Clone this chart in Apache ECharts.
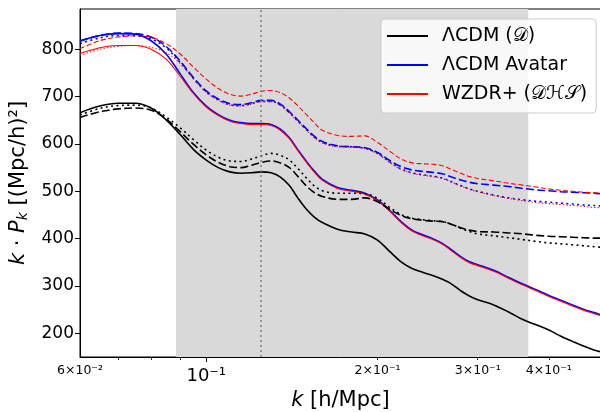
<!DOCTYPE html>
<html><head><meta charset="utf-8">
<script src="https://cdn.jsdelivr.net/npm/echarts@6/dist/echarts.min.js"></script>
<style>html,body{margin:0;padding:0;background:#fff}#c{width:600px;height:412px}</style>
</head><body><div id="c"></div>
<script>
const kVals = [0.06,0.065,0.07,0.075,0.08,0.085,0.09,0.095,0.1,0.105,0.11,0.115,0.12,0.125,0.13,0.135,0.14,0.145,0.15,0.155,0.16,0.17,0.18,0.19,0.2,0.21,0.22,0.23,0.24,0.25,0.26,0.27,0.28,0.29,0.3,0.32,0.34,0.36,0.38,0.4,0.42,0.44,0.46,0.48,0.494];
const lcdmSolid  = [666,680,686,686,676,651,620,588,566,550,541,538,539,541,539,530,512,485,462,445,434,420,414,410,397,373,351,337,329,322,314,304,290,279,271,260,245,229,218,207,194,183,173,165,161];
const lcdmDashed = [656,668,674,676,671,653,626,599,577,561,552,550,555,561,564,560,550,531,511,497,489,483,483,486,478,462,449,442,439,437,436,430,423,418,415,414,412,410,407,405,404,403,402,401,401];
const lcdmDotted = [661,675,681,682,676,657,634,609,587,572,564,563,568,575,580,576,566,548,528,511,501,496,496,495,485,466,451,443,440,438,436,430,422,415,410,406,402,398,394,391,389,387,385,383,382];
const avatarSolid  = [818,829,833,832,818,790,748,708,680,662,650,645,643,643,641,631,613,587,563,542,525,508,502,496,482,460,436,418,408,400,390,376,362,351,345,333,318,304,292,280,270,260,251,244,239];
const avatarDashed = [817,829,834,833,826,806,775,740,712,695,685,683,687,692,692,684,668,650,632,616,605,596,594,592,582,565,552,545,542,540,537,530,524,519,516,513,510,506,503,501,499,498,497,496,495];
const avatarDotted = [812,824,829,829,822,803,772,738,710,693,683,681,685,690,690,682,666,648,630,614,603,595,594,591,580,562,547,539,535,532,528,520,512,505,500,492,486,482,479,477,475,473,471,470,469];
const wzdrSolid  = [791,803,808,808,800,779,743,706,678,660,648,643,641,641,639,629,611,585,561,540,523,506,500,494,480,458,434,416,406,398,388,374,360,349,343,331,316,302,290,278,268,258,249,242,237];
const wzdrDashed = [801,818,826,828,825,812,790,762,737,717,705,701,705,711,713,708,697,680,662,644,629,618,616,617,603,585,568,560,558,557,554,546,538,531,527,522,517,513,509,505,502,500,498,497,496];
const wzdrDotted = [787,800,806,808,804,793,770,737,709,692,682,680,684,689,689,681,665,647,629,613,602,594,593,590,579,561,546,538,534,531,527,519,511,504,499,491,485,480,476,474,472,470,468,466,465];
const shadeRange = [0.0885, 0.368];
const vLineK = 0.1248;
const xMin = 0.06, xMax = 0.494;
const yMin = 150, yMax = 885;
const yTicks = [200,300,400,500,600,700,800];
const xLabelVals = [0.06, 0.1, 0.2, 0.3, 0.4];
const xLabelText = ['{s|6×10⁻²}', '{b|10⁻¹}', '{s|2×10⁻¹}', '{s|3×10⁻¹}', '{s|4×10⁻¹}'];
const xMinorTicks = [0.07, 0.08, 0.09, 0.2, 0.3, 0.4];
const xMajorTicks = [0.1];
const names = ['ΛCDM (𝒟)', 'ΛCDM Avatar', 'WZDR+ (𝒟ℋ𝒮)'];

const FONT = 'DejaVu Sans';
const DASH = [8, 3.3];
const DOT = [2, 3.4];
function pts(arr){ return kVals.map((k,i)=>[k, arr[i]]); }
function mk(name, arr, color, width, type, z){
  return {name, type:'line', data:pts(arr), symbol:'none', showSymbol:false, smooth:0.35, z:z||3,
    lineStyle:{color, width, type}, itemStyle:{color}, emphasis:{disabled:true}, animation:false, xAxisIndex:0, yAxisIndex:0};
}
const series = [
  {type:'line', data:[], xAxisIndex:0, yAxisIndex:0, z:1, silent:true, animation:false,
    markArea:{silent:true, precision:5, itemStyle:{color:'#d9d9d9'}, data:[[{xAxis:shadeRange[0]},{xAxis:shadeRange[1]}]]},
    markLine:{silent:true, precision:5, symbol:['none','none'], label:{show:false},
      lineStyle:{color:'#808080', width:1.5, type:[2,3]}, data:[{xAxis:vLineK}]}},
  mk(names[0], lcdmSolid, '#000000', 1.6, 'solid'),
  mk(names[1], avatarSolid, '#0000ff', 1.6, 'solid'),
  mk(names[2], wzdrSolid, '#ff0000', 1.1, 'solid'),
  mk('lcdm-dashed', lcdmDashed, '#000000', 1.6, DASH),
  mk('avatar-dashed', avatarDashed, '#0000ff', 1.6, DASH),
  mk('wzdr-dashed', wzdrDashed, '#ff0000', 1.1, [5,2.5]),
  mk('lcdm-dotted', lcdmDotted, '#000000', 1.6, DOT),
  mk('avatar-dotted', avatarDotted, '#0000ff', 1.6, DOT),
  mk('wzdr-dotted', wzdrDotted, '#ff0000', 1.1, [1.3,2.2])
];
const chart = echarts.init(document.getElementById('c'), null, {renderer:'canvas'});
chart.setOption({
  animation:false,
  backgroundColor:'#ffffff',
  textStyle:{fontFamily:FONT},
  grid:{left:80, right:-1, top:9, bottom:55, show:true, borderColor:'#000', borderWidth:1, backgroundColor:'transparent', containLabel:false, outerBoundsMode:'none'},
  legend:{data:names.map(n=>({name:n, icon:'rect'})), left:381, top:19, orient:'vertical', itemWidth:41, itemHeight:2, itemGap:9,
    padding:[7,9,9,6], backgroundColor:'rgba(255,255,255,0.8)', borderColor:'#cccccc', borderWidth:1, borderRadius:4,
    textStyle:{fontFamily:FONT, fontSize:19, lineHeight:20, color:'#000', padding:[0,0,0,9]}, selectedMode:false},
  xAxis:[
    {type:'log', logBase:10, min:xMin, max:xMax, position:'bottom',
      name:'{i|k} [h/Mpc]', nameLocation:'middle', nameGap:30,
      nameTextStyle:{fontFamily:FONT, fontSize:21, color:'#000', rich:{i:{fontFamily:FONT, fontSize:21, fontStyle:'italic', color:'#000'}}},
      axisLine:{show:true, onZero:false, lineStyle:{color:'#000', width:1}},
      axisTick:{show:true, customValues:xMajorTicks, length:5, inside:false, lineStyle:{color:'#000', width:1}},
      axisLabel:{show:true, customValues:xLabelVals, margin:7, color:'#000',
        formatter:function(v){ for(let i=0;i<xLabelVals.length;i++){ if(Math.abs(v-xLabelVals[i])<1e-6) return xLabelText[i]; } return ''; },
        rich:{s:{fontFamily:FONT, fontSize:12.5, color:'#000'}, b:{fontFamily:FONT, fontSize:18, color:'#000', padding:[3,0,0,0]}}},
      splitLine:{show:false}, minorTick:{show:false}},
    {type:'log', logBase:10, min:xMin, max:xMax, position:'bottom',
      axisLine:{show:false, onZero:false},
      axisTick:{show:true, customValues:xMinorTicks, length:3, lineStyle:{color:'#000', width:0.8}},
      axisLabel:{show:false}, splitLine:{show:false}}
  ],
  yAxis:{type:'value', min:yMin, max:yMax,
    name:'{i|k} · {i|P}{sub|k} [(Mpc/h)²]', nameLocation:'middle', nameGap:42, nameRotate:90,
    nameTextStyle:{fontFamily:FONT, fontSize:21, color:'#000',
      rich:{i:{fontFamily:FONT, fontSize:21, fontStyle:'italic', color:'#000'},
            sub:{fontFamily:FONT, fontSize:14, fontStyle:'italic', color:'#000', padding:[10,0,0,0]}}},
    axisLine:{show:true, onZero:false, lineStyle:{color:'#000', width:1}},
    axisTick:{show:true, customValues:yTicks, length:5, lineStyle:{color:'#000', width:1}},
    axisLabel:{customValues:yTicks, fontFamily:FONT, fontSize:17, color:'#000', margin:6},
    splitLine:{show:false}},
  series
});
</script></body></html>
